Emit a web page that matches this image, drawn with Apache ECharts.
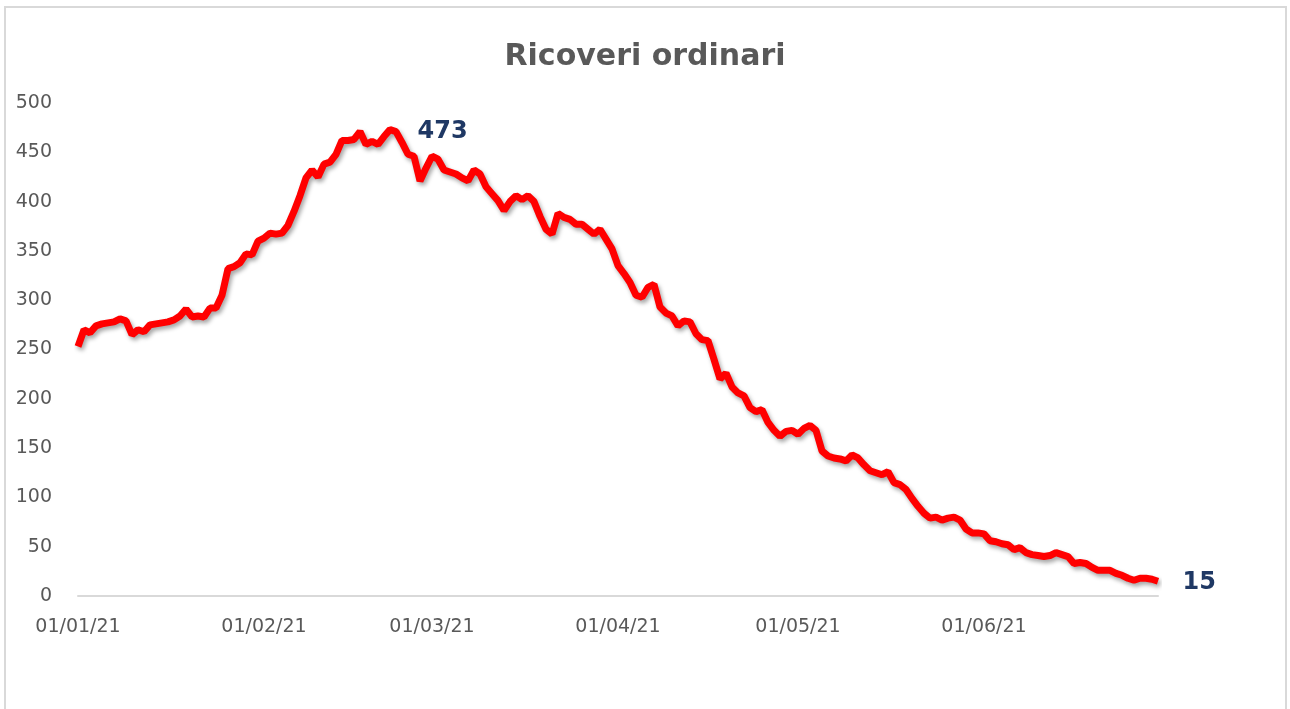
<!DOCTYPE html>
<html>
<head>
<meta charset="utf-8">
<script src="https://cdn.jsdelivr.net/npm/echarts@6/dist/echarts.min.js"></script>
<style>
  html, body { margin: 0; padding: 0; background: #fff; }
  #chart { width: 1290px; height: 709px; }
</style>
</head>
<body>
<div id="chart"></div>
<script>
// daily hospitalised (ordinary wards), 01/01/21 .. 30/06/21
const startDate = [2021, 0, 1];
const ricoveri = [
  253, 270, 267, 274, 276, 277, 278, 281, 279, 265,
  270, 268, 275, 276, 277, 278, 280, 284, 291, 283,
  284, 283, 292, 292, 305, 332, 334, 338, 347, 346,
  360, 363, 368, 367, 368, 376, 390, 406, 424, 432,
  425, 438, 440, 448, 462, 462, 463, 471, 458, 461,
  458, 466, 473, 471, 460, 448, 446, 421, 434, 446,
  443, 432, 430, 428, 424, 421, 432, 428, 415, 408,
  401, 391, 400, 406, 402, 406, 400, 385, 372, 367,
  388, 384, 382, 377, 377, 372, 367, 372, 362, 352,
  335, 327, 318, 305, 303, 313, 316, 293, 287, 284,
  274, 279, 278, 266, 260, 259, 240, 220, 226, 212,
  206, 203, 191, 187, 189, 176, 168, 162, 167, 168,
  164, 170, 173, 168, 147, 142, 140, 139, 137, 143,
  140, 133, 127, 125, 123, 126, 115, 113, 108, 99,
  91, 84, 79, 80, 77, 79, 80, 77, 68, 64,
  64, 63, 56, 55, 53, 52, 47, 49, 44, 42,
  41, 40, 41, 44, 42, 40, 33, 34, 33, 29,
  26, 26, 26, 23, 21, 18, 16, 18, 18, 17,
  15
];
const yTicks = { min: 0, max: 500, interval: 50 };

const pad = n => String(n).padStart(2, '0');
const dates = ricoveri.map((_, i) => {
  const d = new Date(startDate[0], startDate[1], startDate[2] + i);
  return pad(d.getDate()) + '/' + pad(d.getMonth() + 1) + '/' + String(d.getFullYear()).slice(2);
});

const peakIdx = ricoveri.indexOf(Math.max(...ricoveri));
const lastIdx = ricoveri.length - 1;
const labelStyle = {
  show: true, position: 'right', color: '#1f3864',
  fontFamily: 'DejaVu Sans', fontWeight: 'bold', fontSize: 24,
  formatter: p => String(p.value)
};

const chart = echarts.init(document.getElementById('chart'));
chart.setOption({
  animation: false,
  textStyle: { fontFamily: 'DejaVu Sans' },
  title: {
    text: 'Ricoveri ordinari',
    left: 'center',
    top: 37,
    textStyle: { color: '#595959', fontSize: 30, fontWeight: 'bold', fontFamily: 'DejaVu Sans' }
  },
  graphic: [{
    type: 'rect',
    shape: { x: 5, y: 7, width: 1281, height: 710 },
    style: { fill: null, stroke: '#d9d9d9', lineWidth: 2 },
    silent: true
  }],
  grid: { left: 78, right: 132, top: 103, bottom: 113 },
  xAxis: {
    type: 'category',
    data: dates,
    boundaryGap: false,
    axisLine: { lineStyle: { color: '#d9d9d9', width: 2 } },
    axisTick: { show: false },
    axisLabel: {
      color: '#595959', fontSize: 19, margin: 22,
      interval: (i, v) => v.startsWith('01/')
    }
  },
  yAxis: {
    type: 'value',
    min: yTicks.min, max: yTicks.max, interval: yTicks.interval,
    splitLine: { show: false },
    axisLine: { show: false },
    axisTick: { show: false },
    axisLabel: { color: '#595959', fontSize: 19, margin: 26 }
  },
  series: [{
    type: 'line',
    data: ricoveri,
    showSymbol: false,
    lineStyle: {
      color: '#ff0000', width: 7,
      shadowColor: 'rgba(0,0,0,0.35)', shadowBlur: 4, shadowOffsetX: 2, shadowOffsetY: 3
    },
    markPoint: {
      symbol: 'circle',
      symbolSize: 1,
      itemStyle: { color: 'rgba(0,0,0,0)' },
      silent: true,
      data: [
        { coord: [peakIdx, ricoveri[peakIdx]], value: ricoveri[peakIdx],
          label: { ...labelStyle, distance: 27, offset: [0, 2] } },
        { coord: [lastIdx, ricoveri[lastIdx]], value: ricoveri[lastIdx],
          label: { ...labelStyle, distance: 24, offset: [0, 2] } }
      ]
    },
    z: 3
  }]
});
</script>
</body>
</html>
